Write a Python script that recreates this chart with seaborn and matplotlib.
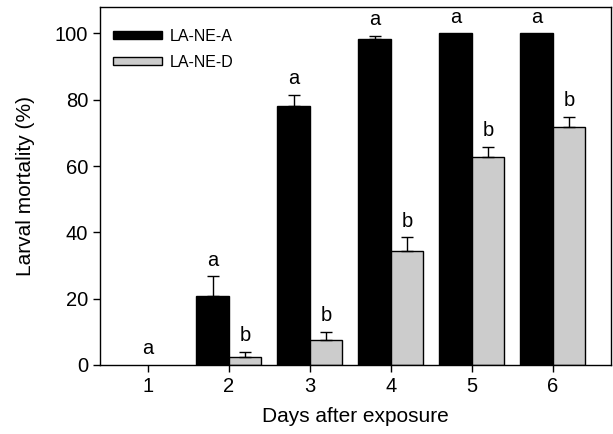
import numpy as np
import pandas as pd
import matplotlib
matplotlib.use('Agg')
import matplotlib.pyplot as plt
import seaborn as sns

days = ['1', '2', '3', '4', '5', '6']
strains = ['LA-NE-A', 'LA-NE-D']
mort_a = [0, 20.9, 78.0, 98.4, 100, 100]
err_a = [0, 5.8, 3.4, 0.8, 0, 0]
mort_d = [0, 2.3, 7.6, 34.4, 62.7, 71.9]
err_d = [0, 1.7, 2.5, 4.1, 3.1, 3.0]
letters_a = ['', 'a', 'a', 'a', 'a', 'a']
letters_d = ['', 'b', 'b', 'b', 'b', 'b']
letter_day1 = 'a'

sns.set_style('ticks')
plt.rcParams['font.family'] = ['Liberation Sans', 'DejaVu Sans']
plt.rcParams.update({'text.color': 'black', 'axes.labelcolor': 'black',
                     'xtick.color': 'black', 'ytick.color': 'black',
                     'axes.edgecolor': 'black'})

df = pd.DataFrame({
    'day': days * 2,
    'strain': [strains[0]] * 6 + [strains[1]] * 6,
    'mort': mort_a + mort_d,
})

fig = plt.figure(figsize=(6.13, 4.34), dpi=100)
ax = fig.add_axes([0.163, 0.159, 0.834, 0.825])
sns.barplot(data=df, x='day', y='mort', hue='strain', order=days,
            hue_order=strains, palette=['black', '#cccccc'],
            saturation=1, width=0.8, edgecolor='black', linewidth=1,
            errorbar=None, ax=ax)

for cont, errs, labs in zip(ax.containers, [err_a, err_d],
                            [letters_a, letters_d]):
    for bar, e, lab in zip(cont, errs, labs):
        x = bar.get_x() + bar.get_width() / 2
        h = bar.get_height()
        if h == 0:
            bar.set_linewidth(0)
        if e > 0:
            ax.errorbar(x, h, yerr=[[0], [e]], fmt='none', ecolor='black',
                        elinewidth=1, capsize=4, capthick=1)
        if lab:
            ax.text(x, h + e + 2.0, lab, ha='center', va='bottom',
                    fontsize=14.5)

# day 1 letter centred on its tick
ax.text(0, 2.0, letter_day1, ha='center', va='bottom', fontsize=14.5)

ax.set_xlim(-0.59, 5.72)
ax.set_ylim(0, 108)
ax.set_yticks([0, 20, 40, 60, 80, 100])
ax.set_xlabel('Days after exposure', fontsize=15, labelpad=8)
ax.set_ylabel('Larval mortality (%)', fontsize=15, labelpad=14)
ax.tick_params(labelsize=14.5, length=5, width=1, direction='out')
for s in ax.spines.values():
    s.set_linewidth(1)
    s.set_visible(True)

leg = ax.legend(loc='upper left', bbox_to_anchor=(0, 0.975), frameon=False,
                fontsize=11.5, handlelength=3.1, handleheight=0.45,
                borderaxespad=0.4, labelspacing=0.7, handletextpad=0.5)

fig.savefig('out.png', dpi=100)
